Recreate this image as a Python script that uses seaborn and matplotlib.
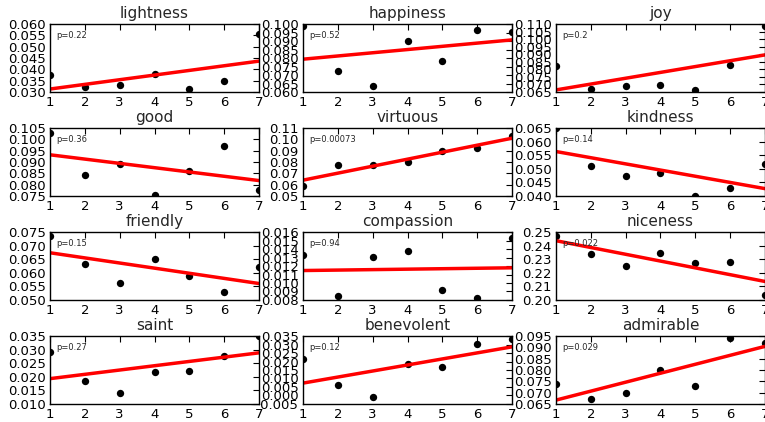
import matplotlib
matplotlib.use('Agg')
import matplotlib.pyplot as plt
import seaborn as sns
import pandas as pd
from matplotlib.ticker import MultipleLocator, ScalarFormatter

# 데이터
x_levels = [1, 2, 3, 4, 5, 6, 7]
words = ['lightness', 'happiness', 'joy',
         'good', 'virtuous', 'kindness',
         'friendly', 'compassion', 'niceness',
         'saint', 'benevolent', 'admirable']

lightness = [0.0375, 0.0322, 0.0331, 0.0378, 0.0315, 0.0349, 0.0554]
happiness = [0.0990, 0.0723, 0.0634, 0.0901, 0.0780, 0.0966, 0.0956]
joy = [0.0822, 0.0670, 0.0692, 0.0699, 0.0661, 0.0826, 0.1089]
good = [0.1028, 0.0842, 0.0893, 0.0754, 0.0861, 0.0972, 0.0775]
virtuous = [0.0586, 0.0775, 0.0775, 0.0801, 0.0893, 0.0920, 0.1026]
kindness = [0.0650, 0.0512, 0.0473, 0.0486, 0.0400, 0.0431, 0.0516]
friendly = [0.0736, 0.0631, 0.0564, 0.0651, 0.0590, 0.0528, 0.0620]
compassion = [0.0133, 0.0085, 0.0131, 0.0138, 0.0092, 0.0082, 0.0153]
niceness = [0.2473, 0.2340, 0.2250, 0.2348, 0.2275, 0.2280, 0.2038]
saint = [0.0291, 0.0185, 0.0141, 0.0218, 0.0223, 0.0277, 0.0350]
benevolent = [0.0216, 0.0062, -0.0007, 0.0188, 0.0165, 0.0303, 0.0330]
admirable = [0.0739, 0.0672, 0.0699, 0.0801, 0.0730, 0.0940, 0.0919]

series = [lightness, happiness, joy, good, virtuous, kindness,
          friendly, compassion, niceness, saint, benevolent, admirable]

p_values = ['0.22', '0.52', '0.2', '0.36', '0.00073', '0.14',
            '0.15', '0.94', '0.022', '0.27', '0.12', '0.029']

y_limits = [(0.030, 0.060), (0.060, 0.100), (0.065, 0.110),
            (0.075, 0.105), (0.05, 0.11), (0.040, 0.065),
            (0.050, 0.075), (0.008, 0.016), (0.20, 0.25),
            (0.010, 0.035), (-0.005, 0.035), (0.065, 0.095)]
y_steps = [0.005, 0.005, 0.005, 0.005, 0.01, 0.005,
           0.005, 0.001, 0.01, 0.005, 0.005, 0.005]

sns.set_style('white')
plt.rcParams['font.family'] = ['DejaVu Sans']
plt.rcParams['xtick.direction'] = 'in'
plt.rcParams['ytick.direction'] = 'in'
plt.rcParams['xtick.top'] = True
plt.rcParams['ytick.right'] = True
plt.rcParams['xtick.major.size'] = 4
plt.rcParams['ytick.major.size'] = 4
plt.rcParams['axes.edgecolor'] = 'black'
plt.rcParams['axes.linewidth'] = 1.0

fig, axes = plt.subplots(4, 3, figsize=(7.65, 4.22), dpi=100)
fig.subplots_adjust(left=0.0654, right=1.0, bottom=0.0427, top=0.943,
                    wspace=0.21, hspace=0.53)

for ax, word, vals, p, lim, step in zip(axes.flat, words, series, p_values, y_limits, y_steps):
    df = pd.DataFrame({'level': x_levels, 'value': vals})
    sns.regplot(data=df, x='level', y='value', ax=ax, ci=None,
                scatter_kws={'color': 'black', 's': 28, 'linewidths': 0, 'alpha': 1},
                line_kws={'color': 'red', 'lw': 2.5})
    ax.set_xlim(1, 7)
    ax.set_ylim(*lim)
    ax.xaxis.set_major_locator(MultipleLocator(1))
    ax.yaxis.set_major_locator(MultipleLocator(step))
    fmt = ScalarFormatter(useOffset=False)
    ax.yaxis.set_major_formatter(fmt)
    ax.tick_params(labelsize=9.5, pad=3, colors='black')
    ax.set_xlabel('')
    ax.set_ylabel('')
    ax.set_title(word, fontsize=11, pad=4)
    ax.text(0.03, 0.83, 'p=' + p, transform=ax.transAxes, fontsize=6, va='center')

plt.savefig('out.png', dpi=100)
